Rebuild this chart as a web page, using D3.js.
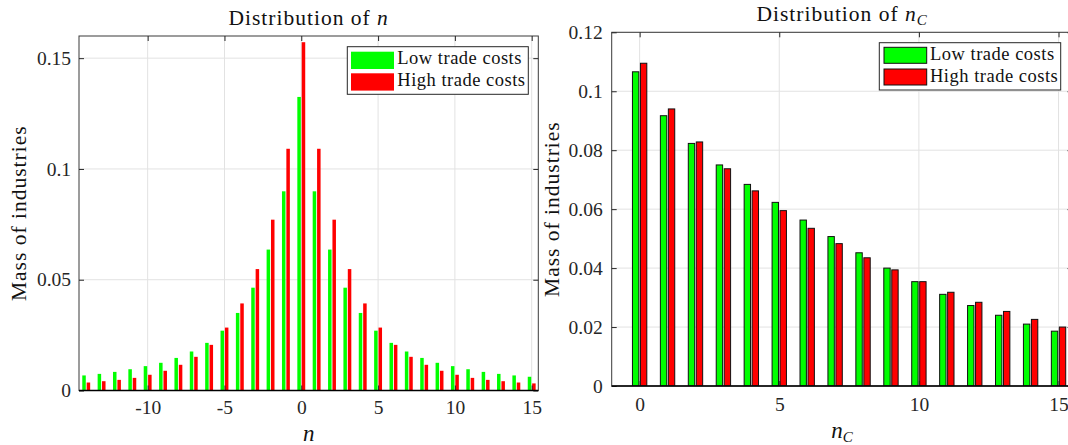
<!DOCTYPE html>
<html><head><meta charset="utf-8">
<script src="https://cdn.jsdelivr.net/npm/d3@7"></script>
</head><body style="margin:0">
<svg id="c" width="1068" height="445" style="display:block" font-family="Liberation Serif"></svg>
<script>
// ---------- data ----------
const nCats = [-14,-13,-12,-11,-10,-9,-8,-7,-6,-5,-4,-3,-2,-1,0,1,2,3,4,5,6,7,8,9,10,11,12,13,14,15];
const nLow  = [0.0068,0.0075,0.0084,0.0096,0.0110,0.0125,0.0147,0.0176,0.0215,0.0270,0.0350,0.0464,0.0636,0.0899,0.1325,0.0899,0.0636,0.0464,0.0350,0.0270,0.0215,0.0176,0.0147,0.0125,0.0110,0.0096,0.0084,0.0075,0.0068,0.0062];
const nHigh = [0.0036,0.0042,0.0048,0.0057,0.0071,0.0089,0.0116,0.0152,0.0206,0.0284,0.0393,0.0548,0.0771,0.1091,0.1572,0.1091,0.0771,0.0548,0.0393,0.0284,0.0206,0.0152,0.0116,0.0089,0.0071,0.0057,0.0048,0.0042,0.0036,0.0032];

const ncCats = [0,1,2,3,4,5,6,7,8,9,10,11,12,13,14,15];
const ncLow  = [0.1066,0.0917,0.0823,0.0750,0.0684,0.0623,0.0563,0.0507,0.0452,0.0400,0.0354,0.0311,0.0273,0.0240,0.0210,0.0186];
const ncHigh = [0.1095,0.0940,0.0828,0.0737,0.0662,0.0595,0.0535,0.0483,0.0435,0.0394,0.0354,0.0318,0.0284,0.0253,0.0226,0.0200];

const seriesNames  = ["Low trade costs","High trade costs"];
const seriesColors = ["#00ff00","#ff0000"];

const nXTicks  = [-10,-5,0,5,10,15];
const nYTicks  = [0,0.05,0.1,0.15];
const nYLabels = ["0","0.05","0.1","0.15"];
const ncXTicks = [0,5,10,15];
const ncYTicks = [0,0.02,0.04,0.06,0.08,0.1,0.12];
const ncYLabels = ["0","0.02","0.04","0.06","0.08","0.1","0.12"];

// ---------- drawing ----------
const svg = d3.select("#c");
const AX = "#262626";
const FONT = "Liberation Serif";

function txt(sel, size){
  return sel.attr("font-family", FONT).style("font-family", FONT).style("font-size", size + "px");
}

function panel(cfg){
  const g = svg.append("g");
  const x = d3.scaleLinear().domain(cfg.xDomain).range(cfg.xRange);
  const y = d3.scaleLinear().domain(cfg.yDomain).range(cfg.yRange);
  const L = cfg.xRange[0], R = cfg.xRange[1], B = cfg.yRange[0], T = cfg.yRange[1];

  const clipId = "clip" + cfg.id;
  svg.append("clipPath").attr("id", clipId).append("rect")
    .attr("x", L).attr("y", T).attr("width", R - L).attr("height", B - T);

  // grid
  g.append("g").selectAll("line").data(cfg.xTicks).join("line")
    .attr("x1", d => x(d)).attr("x2", d => x(d)).attr("y1", T).attr("y2", B)
    .attr("stroke", "#e2e2e2").attr("stroke-width", 1);
  g.append("g").selectAll("line").data(cfg.yTicks.slice(1)).join("line")
    .attr("x1", L).attr("x2", R).attr("y1", d => y(d)).attr("y2", d => y(d))
    .attr("stroke", "#e2e2e2").attr("stroke-width", 1);

  // bars (grouped like MATLAB: group width 2/3.5, bar width 0.8 of slot)
  const groupW = 2 / 3.5;
  const slot = groupW / 2;
  const bw = slot * 0.8;
  const bars = g.append("g").attr("clip-path", `url(#${clipId})`);
  cfg.series.forEach((vals, si) => {
    const off = -groupW / 2 + slot * (si + 0.5);
    bars.append("g").selectAll("rect").data(cfg.cats.map((c, i) => ({c, v: vals[i]}))).join("rect")
      .attr("x", d => x(d.c + off - bw / 2))
      .attr("width", d => x(d.c + off + bw / 2) - x(d.c + off - bw / 2))
      .attr("y", d => y(d.v))
      .attr("height", d => y(0) - y(d.v))
      .attr("fill", seriesColors[si])
      .attr("stroke", cfg.edge ? "#111" : "none")
      .attr("stroke-width", cfg.edge ? 1 : 0);
  });

  // box
  g.append("rect").attr("x", L).attr("y", T).attr("width", R - L).attr("height", B - T)
    .attr("fill", "none").attr("stroke", "#3a3a3a").attr("stroke-width", 1);

  const style = sel => {
    sel.attr("font-family", FONT);
    sel.select(".domain").remove();
    sel.selectAll(".tick line").attr("stroke", AX);
    txt(sel.selectAll(".tick text"), 19.5).attr("fill", AX);
  };
  // bottom
  g.append("g").attr("transform", `translate(0,${B})`)
    .call(d3.axisBottom(x).tickValues(cfg.xTicks).tickSizeInner(-5).tickSizeOuter(0)
      .tickPadding(cfg.xPad).tickFormat(d => d < 0 ? "-" + Math.abs(d) : String(d)))
    .call(style);
  // top
  g.append("g").attr("transform", `translate(0,${T})`)
    .call(d3.axisTop(x).tickValues(cfg.xTicks).tickSizeInner(-5).tickSizeOuter(0).tickFormat(""))
    .call(style);
  // left
  g.append("g").attr("transform", `translate(${L},0)`)
    .call(d3.axisLeft(y).tickValues(cfg.yTicks).tickSizeInner(-5).tickSizeOuter(0)
      .tickPadding(cfg.yPad).tickFormat((d, i) => cfg.yLabels[i]))
    .call(style);
  // right
  g.append("g").attr("transform", `translate(${R},0)`)
    .call(d3.axisRight(y).tickValues(cfg.yTicks).tickSizeInner(-5).tickSizeOuter(0).tickFormat(""))
    .call(style);

  // baseline
  g.append("line").attr("x1", L).attr("x2", R).attr("y1", y(0)).attr("y2", y(0))
    .attr("stroke", "#000").attr("stroke-width", 1.3);

  // title
  const cx = (L + R) / 2;
  const t = txt(g.append("text"), 21.5).attr("x", cx).attr("y", cfg.titleY).attr("text-anchor", "middle")
    .style("letter-spacing", "1px").attr("fill", "#111");
  t.append("tspan").text("Distribution of ");
  t.append("tspan").style("font-style", "italic").text("n");
  if (cfg.sub) t.append("tspan").style("font-style", "italic").style("font-size", "15px").attr("dy", 4).text(cfg.sub);

  // x label
  const xl = txt(g.append("text"), 23).attr("x", cx).attr("y", cfg.xLabelY).attr("text-anchor", "middle")
    .attr("fill", "#111");
  xl.append("tspan").style("font-style", "italic").text("n");
  if (cfg.sub) xl.append("tspan").style("font-style", "italic").style("font-size", "15px").attr("dy", 4).text(cfg.sub);

  // y label
  txt(g.append("text"), 21.5).attr("transform", `translate(${cfg.yLabelX},${(T + B) / 2}) rotate(-90)`)
    .attr("text-anchor", "middle").style("letter-spacing", "1px")
    .attr("fill", "#111").text("Mass of industries");

  // legend
  const lg = cfg.legend;
  const leg = g.append("g");
  leg.append("rect").attr("x", lg.x).attr("y", lg.y).attr("width", lg.w).attr("height", lg.h)
    .attr("fill", "#fff").attr("stroke", AX).attr("stroke-width", 1);
  seriesNames.forEach((name, i) => {
    leg.append("rect").attr("x", lg.x + lg.sx).attr("y", lg.y + lg.sy + i * lg.step)
      .attr("width", lg.sw).attr("height", lg.sh).attr("fill", seriesColors[i])
      .attr("stroke", cfg.edge ? "#111" : "none").attr("stroke-width", 1);
    txt(leg.append("text"), 18.5).attr("x", lg.x + lg.tx).attr("y", lg.y + lg.ty + i * lg.step)
      .style("letter-spacing", "0.5px").attr("fill", "#111").text(name);
  });
}

panel({
  id: 1, cats: nCats, series: [nLow, nHigh], edge: false,
  xDomain: [-14.47, 15.43], xRange: [79, 538.3],
  yDomain: [0, 0.16], yRange: [390.5, 36],
  xTicks: nXTicks, yTicks: nYTicks, yLabels: nYLabels,
  xPad: 10, yPad: 8, titleY: 25, xLabelY: 441, yLabelX: 26, sub: null,
  legend: {x: 347.3, y: 46.7, w: 181, h: 47.6, sx: 3.7, sy: 5, sw: 43, sh: 17.3, step: 21.6, tx: 50, ty: 17.6}
});

panel({
  id: 2, cats: ncCats, series: [ncLow, ncHigh], edge: true,
  xDomain: [-1, 15.5], xRange: [611.7, 1072.5],
  yDomain: [0, 0.12], yRange: [386, 32.3],
  xTicks: ncXTicks, yTicks: ncYTicks, yLabels: ncYLabels,
  xPad: 11, yPad: 9, titleY: 21, xLabelY: 438, yLabelX: 559, sub: "C",
  legend: {x: 879.3, y: 42.7, w: 181.4, h: 47.3, sx: 4.7, sy: 4.6, sw: 42.7, sh: 16, step: 21.7, tx: 50.7, ty: 17.3}
});
</script>
</body></html>
